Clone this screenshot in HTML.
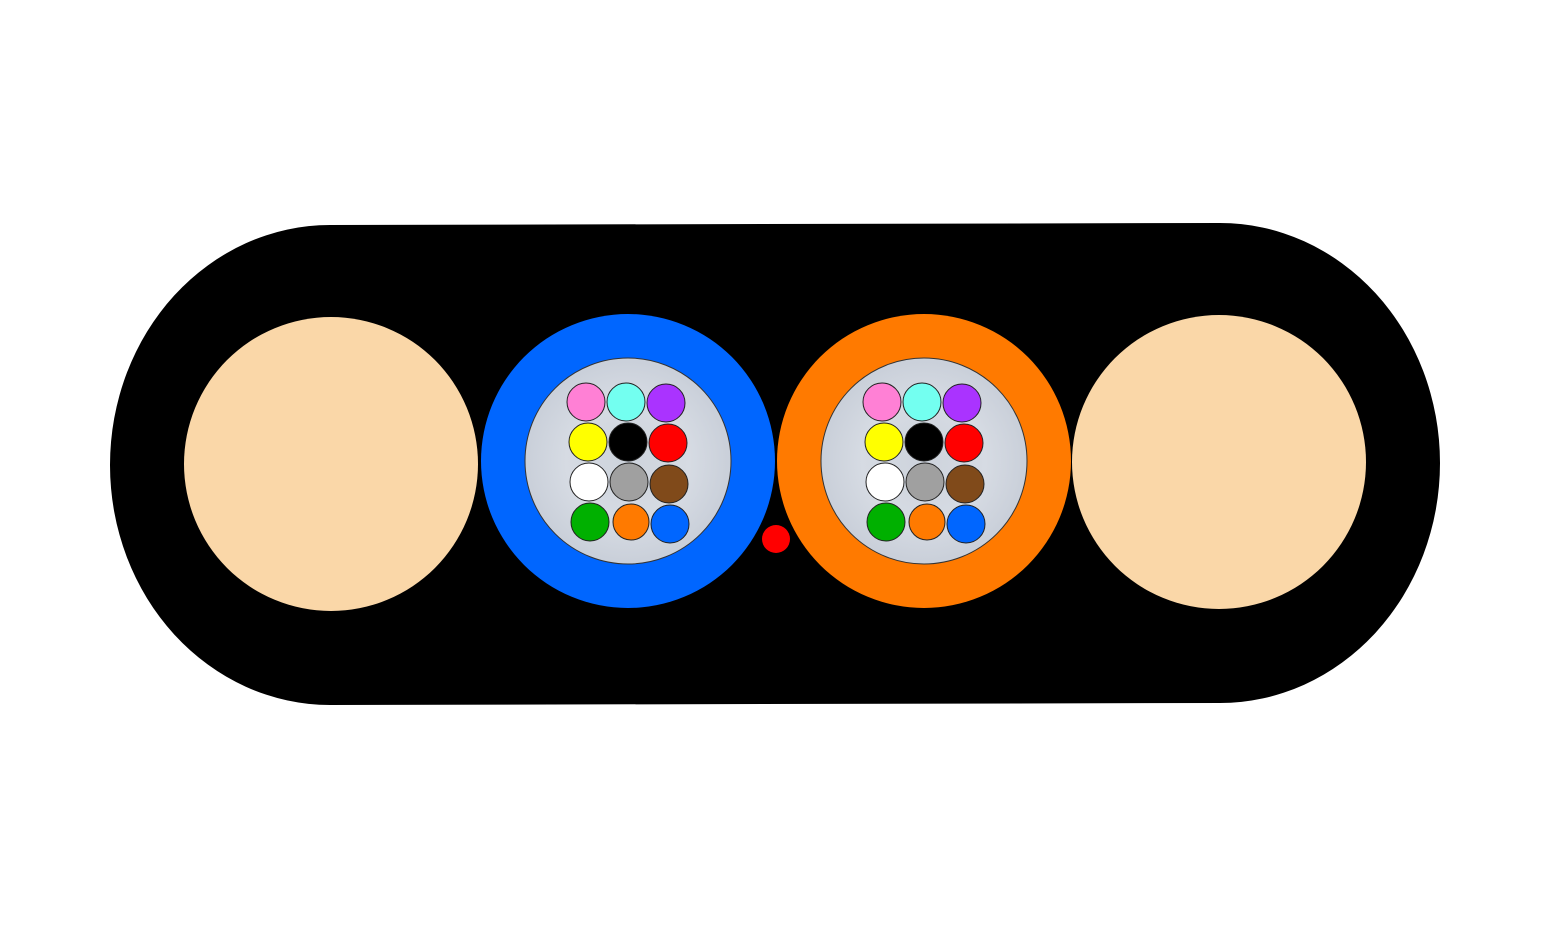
<!DOCTYPE html>
<html><head><style>html,body{margin:0;padding:0;background:#fff}svg{display:block}</style></head>
<body>
<svg width="1551" height="928" viewBox="0 0 1551 928" xmlns="http://www.w3.org/2000/svg">
<defs>
<radialGradient id="g" cx="50%" cy="50%" r="50%">
<stop offset="0" stop-color="#cdd3dc"/><stop offset="0.6" stop-color="#d6dbe3"/><stop offset="1" stop-color="#c9cfd9"/>
</radialGradient>
</defs>
<path d="M330 225 L1220 223 A220 240 0 0 1 1220 703 L330 705 A220 240 0 0 1 330 225 Z" fill="#000"/>
<circle cx="331" cy="464" r="147" fill="#fad7a8"/>
<circle cx="1219" cy="462" r="147" fill="#fad7a8"/>
<circle cx="776" cy="539" r="14" fill="#ff0000"/>
<g id="t1">
<circle cx="628" cy="461" r="147" fill="#0066ff"/>
<circle cx="628" cy="461" r="103" fill="url(#g)" stroke="#333" stroke-width="1"/>
<g stroke="#222" stroke-width="1">
<circle cx="586" cy="402" r="19" fill="#ff80d5"/>
<circle cx="626" cy="402" r="19" fill="#73fff0"/>
<circle cx="666" cy="403" r="19" fill="#aa33ff"/>
<circle cx="588" cy="442" r="19" fill="#ffff00"/>
<circle cx="628" cy="442" r="19" fill="#000"/>
<circle cx="668" cy="443" r="19" fill="#ff0000"/>
<circle cx="589" cy="482" r="19" fill="#fff"/>
<circle cx="629" cy="482" r="19" fill="#a0a0a0"/>
<circle cx="669" cy="484" r="19" fill="#804a1a"/>
<circle cx="590" cy="522" r="19" fill="#00b000"/>
<circle cx="631" cy="522" r="18" fill="#ff7a00"/>
<circle cx="670" cy="524" r="19" fill="#0066ff"/>
</g>
</g>
<g transform="translate(296,0)">
<circle cx="628" cy="461" r="147" fill="#ff7a00"/>
<circle cx="628" cy="461" r="103" fill="url(#g)" stroke="#333" stroke-width="1"/>
<g stroke="#222" stroke-width="1">
<circle cx="586" cy="402" r="19" fill="#ff80d5"/>
<circle cx="626" cy="402" r="19" fill="#73fff0"/>
<circle cx="666" cy="403" r="19" fill="#aa33ff"/>
<circle cx="588" cy="442" r="19" fill="#ffff00"/>
<circle cx="628" cy="442" r="19" fill="#000"/>
<circle cx="668" cy="443" r="19" fill="#ff0000"/>
<circle cx="589" cy="482" r="19" fill="#fff"/>
<circle cx="629" cy="482" r="19" fill="#a0a0a0"/>
<circle cx="669" cy="484" r="19" fill="#804a1a"/>
<circle cx="590" cy="522" r="19" fill="#00b000"/>
<circle cx="631" cy="522" r="18" fill="#ff7a00"/>
<circle cx="670" cy="524" r="19" fill="#0066ff"/>
</g>
</g>
</svg>
</body></html>
